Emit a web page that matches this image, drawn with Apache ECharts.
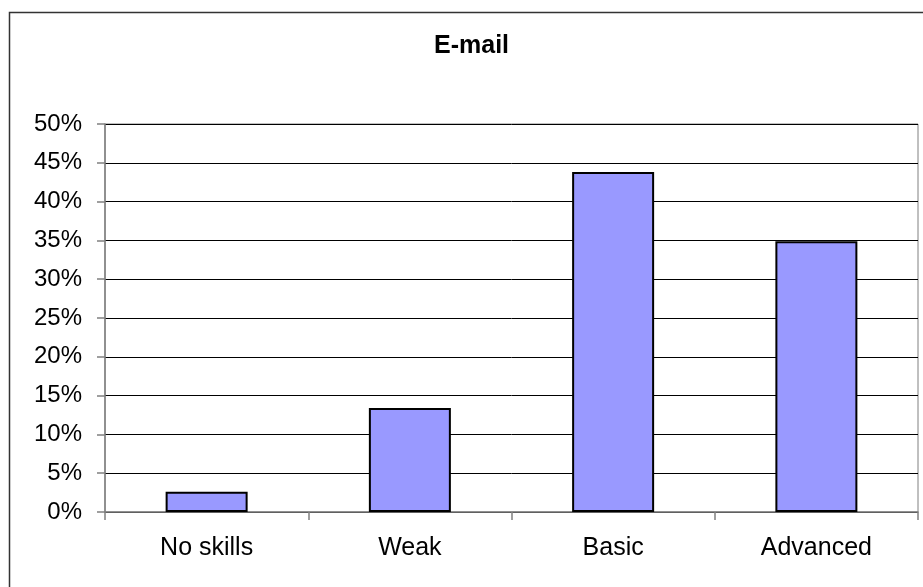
<!DOCTYPE html>
<html>
<head>
<meta charset="utf-8">
<script src="https://cdn.jsdelivr.net/npm/echarts@6/dist/echarts.min.js"></script>
<style>
html,body{margin:0;padding:0;background:#fff;}
#chart{width:923px;height:587px;}
</style>
</head>
<body>
<div id="chart"></div>
<script>
const titleText = 'E-mail';
const categories = ['No skills', 'Weak', 'Basic', 'Advanced'];
const values = [2.6, 13.4, 43.8, 34.9];

const FONT = '"Liberation Sans", Arial, sans-serif';
const chart = echarts.init(document.getElementById('chart'), null, {renderer: 'canvas'});
chart.setOption({
  animation: false,
  backgroundColor: '#fff',
  title: {
    text: titleText,
    left: 434,
    top: 34,
    padding: 0,
    textStyle: {fontFamily: FONT, fontSize: 25, fontWeight: 'bold', color: '#000'}
  },
  graphic: [{
    type: 'rect',
    shape: {x: 9.5, y: 12.5, width: 940, height: 600},
    style: {fill: 'none', stroke: '#333', lineWidth: 1.5},
    silent: true, z: 100
  }],
  grid: {
    left: 105, right: 5, top: 124, bottom: 75,
    show: true, borderColor: '#808080', borderWidth: 1, backgroundColor: 'transparent'
  },
  xAxis: {
    type: 'category',
    data: categories,
    boundaryGap: true,
    axisLine: {show: true, lineStyle: {color: '#808080', width: 1.5}},
    axisTick: {show: true, length: 8, lineStyle: {color: '#808080', width: 1.5}},
    axisLabel: {margin: 24, fontFamily: FONT, fontSize: 25, color: '#000'},
    splitLine: {show: false}
  },
  yAxis: {
    type: 'value',
    min: 0, max: 50, interval: 5,
    axisLine: {show: true, lineStyle: {color: '#808080', width: 1.5}},
    axisTick: {show: true, length: 8, lineStyle: {color: '#808080', width: 1.5}},
    axisLabel: {margin: 23, fontFamily: FONT, fontSize: 24, color: '#000', formatter: '{value}%'},
    splitLine: {show: true, lineStyle: {color: '#000', width: 1}}
  },
  series: [{
    type: 'bar',
    data: values,
    barWidth: 82,
    itemStyle: {color: '#9999FF', borderColor: '#000', borderWidth: 2}
  }]
});
</script>
</body>
</html>
